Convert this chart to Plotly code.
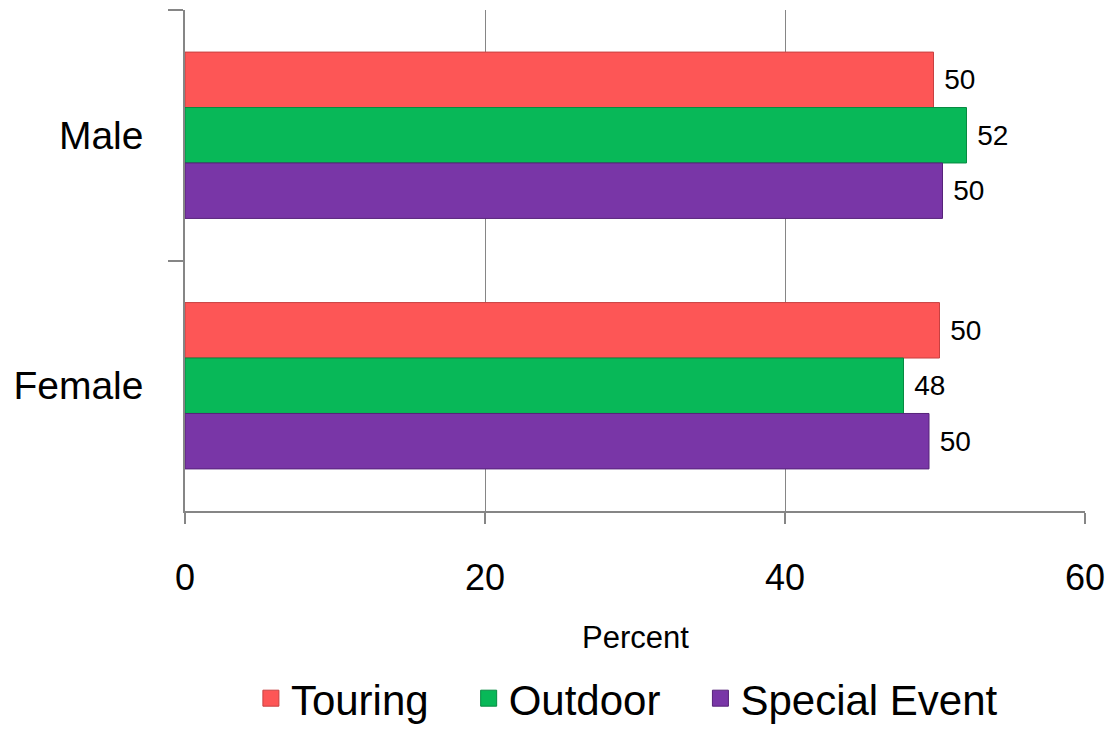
import plotly.graph_objects as go

categories = ["Male", "Female"]
series_names = ["Touring", "Outdoor", "Special Event"]
touring = [49.9, 50.3]
outdoor = [52.1, 47.9]
special_event = [50.5, 49.6]
x_ticks = [0, 20, 40, 60]

values = [touring, outdoor, special_event]
colors = ["#FD5656", "#08B858", "#7936A7"]
edge_colors = ["#C84040", "#078A42", "#57237A"]
legend_pad = ["\u00a0\u00a0\u00a0", "\u00a0\u00a0\u00a0", ""]

fig = go.Figure()
for name, vals, col, ec in zip(series_names, values, colors, edge_colors):
    fig.add_trace(go.Bar(
        y=categories, x=vals, name=name, orientation="h",
        marker=dict(color=col, line=dict(color=ec, width=1)),
        text=[f"{v:.0f}" for v in vals],
        texttemplate="\u00a0%{text}",
        textposition="outside",
        textfont=dict(family="Liberation Sans, Arial", size=28, color="#000000"),
        cliponaxis=False,
        showlegend=False,
    ))
for name, col, ec, pad in zip(series_names, colors, edge_colors, legend_pad):
    fig.add_trace(go.Scatter(
        x=[None], y=[None], mode="markers", name=name + pad,
        marker=dict(symbol="square", size=16, color=col, line=dict(color=ec, width=1)),
        showlegend=True,
    ))

fig.update_layout(
    width=1110, height=742,
    margin=dict(l=185, r=25, t=10, b=221),
    paper_bgcolor="white", plot_bgcolor="white",
    barmode="group", bargap=0.336, bargroupgap=0,
    font=dict(family="Liberation Sans, Arial", color="#000000"),
    legend=dict(orientation="h", x=0.491, xanchor="center", y=-0.374, yanchor="middle",
                font=dict(size=42, family="Liberation Sans, Arial"),
                itemwidth=30, traceorder="normal"),
    annotations=[dict(text="Percent", x=0.5, xref="paper", y=-0.252, yref="paper",
                      yanchor="middle", xanchor="center", showarrow=False,
                      font=dict(size=31, family="Liberation Sans, Arial"))],
)
fig.update_xaxes(
    range=[0, 60], tickvals=x_ticks, ticktext=[str(t) for t in x_ticks],
    showgrid=True, gridcolor="#868686", gridwidth=1,
    showline=True, linecolor="#868686", linewidth=1.5,
    ticks="outside", ticklen=11, tickcolor="#868686", tickwidth=1.5,
    ticklabelstandoff=23, automargin=False,
    tickfont=dict(size=36, family="Liberation Sans, Arial"),
    zeroline=False,
)
fig.update_yaxes(
    categoryorder="array", categoryarray=categories, autorange="reversed",
    showline=True, linecolor="#868686", linewidth=1.5,
    ticks="outside", ticklen=15, tickcolor="#868686", tickwidth=1.5,
    tickson="boundaries", ticklabelstandoff=32, automargin=False,
    tickfont=dict(size=39, family="Liberation Sans, Arial"),
    showgrid=False,
)

fig.write_html("out.html", config={"displayModeBar": False},
               post_script="document.body.style.margin='0';document.body.style.overflow='hidden';")
